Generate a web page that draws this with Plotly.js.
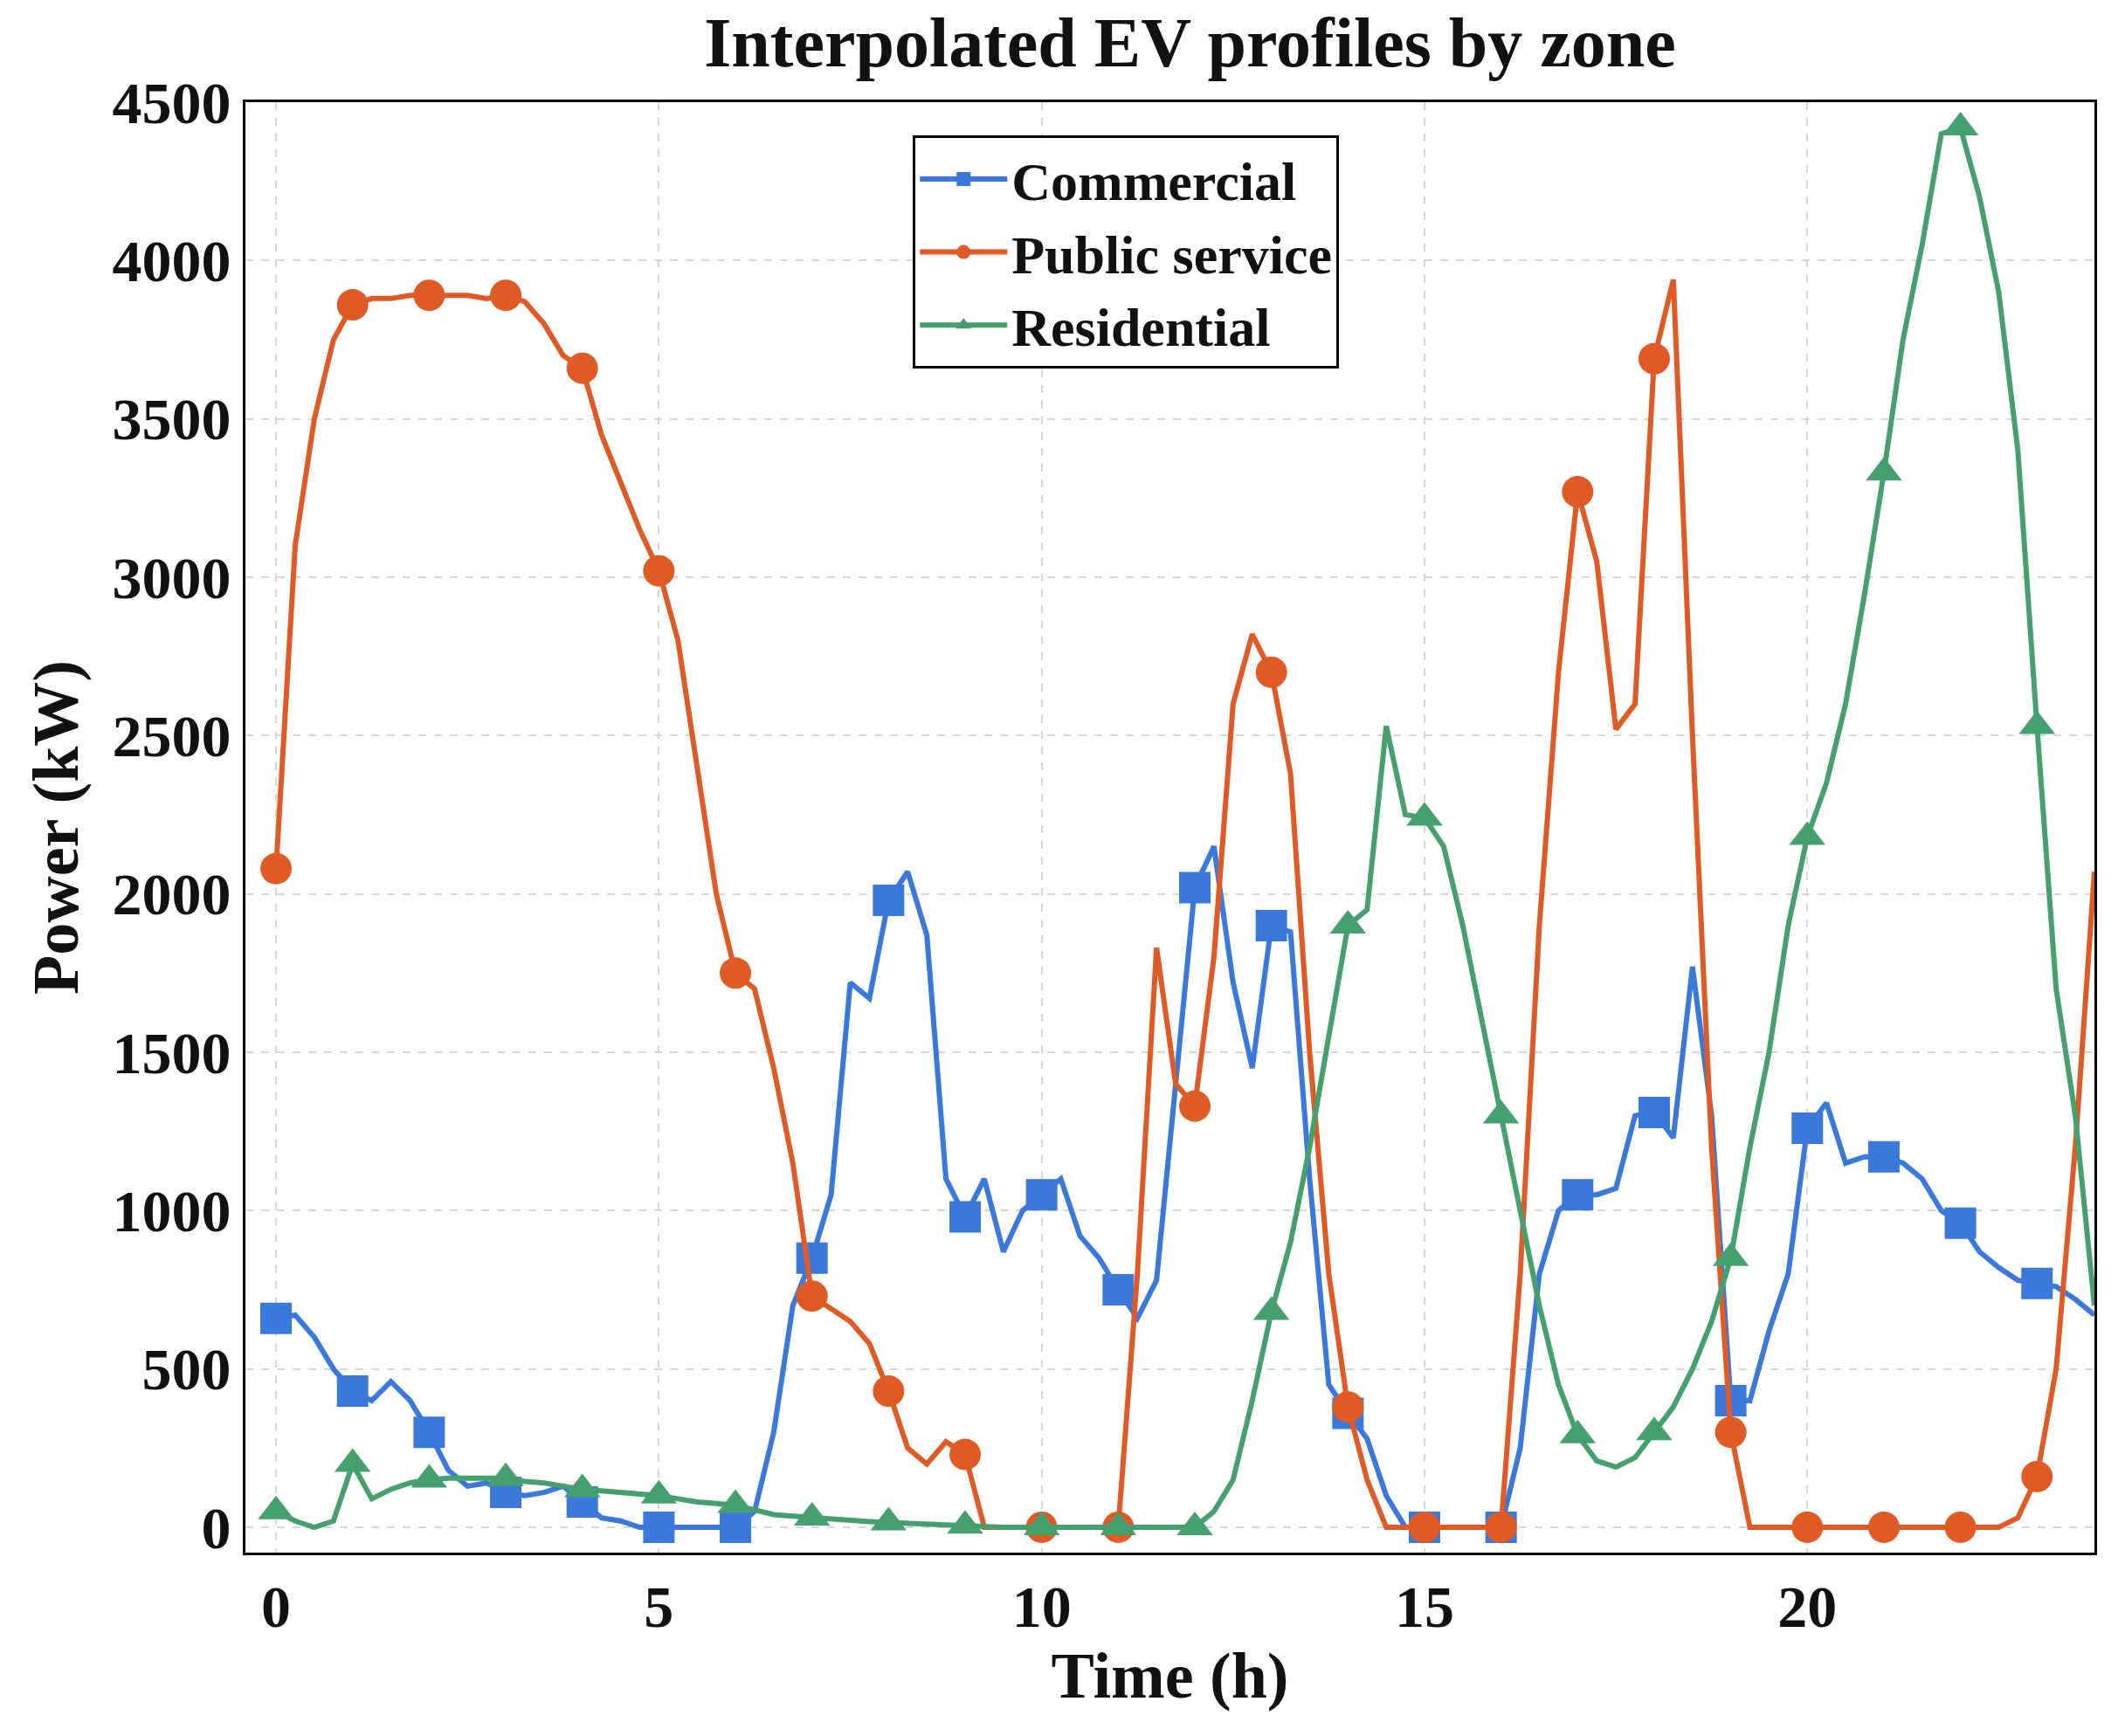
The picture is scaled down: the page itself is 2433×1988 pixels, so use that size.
<!DOCTYPE html>
<html>
<head>
<meta charset="utf-8">
<script src="https://cdn.plot.ly/plotly-3.0.1.min.js"></script>
<style>body{margin:0;background:#fff}</style>
</head>
<body>
<div id="chart" style="width:2433px;height:1988px"></div>
<script>
// quarter-hour readings, 0 .. 23.75 h
const time = []
for (let i = 0; i < 96; i++) time.push(i / 4)

const commercial = [
  660,670,600,500, 430,400,460,400, 300,180,130,140, 110,100,110,130,
  80,30,20,0, 0,0,0,0, 0,50,300,700, 850,1050,1720,1670,
  1980,2070,1870,1100, 980,1100,870,1000, 1050,1100,920,850, 750,660,780,1400,
  2020,2150,1720,1450, 1900,1880,1100,450, 360,280,100,0, 0,0,0,0,
  0,250,800,1000, 1050,1050,1070,1300, 1310,1230,1770,1300, 400,400,620,800,
  1260,1340,1150,1170, 1170,1150,1100,1000, 960,870,820,780, 770,760,720,670
]
const publicService = [
  2080,3100,3500,3750, 3860,3880,3880,3890, 3890,3890,3890,3880, 3890,3870,3800,3700,
  3660,3450,3300,3150, 3020,2800,2400,2000, 1750,1700,1450,1150, 730,690,650,580,
  430,250,200,270, 230,0,0,0, 0,0,0,0, 0,800,1830,1400,
  1330,1800,2600,2820, 2700,2380,1500,800, 380,150,0,0, 0,0,0,0,
  0,800,1900,2700, 3270,3050,2520,2600, 3690,3940,2500,1200, 300,0,0,0,
  0,0,0,0, 0,0,0,0, 0,0,0,30, 160,500,1200,2070
]
const residential = [
  50,20,0,20, 200,90,120,140, 150,155,155,155, 155,145,140,130,
  120,115,110,105, 100,90,80,75, 70,55,40,35, 30,25,20,18,
  15,12,10,7, 5,3,0,0, 0,0,0,0, 0,0,0,0,
  0,50,150,400, 680,900,1200,1550, 1900,1950,2530,2250, 2240,2150,1900,1600,
  1300,1000,700,450, 290,210,190,220, 300,380,500,650, 850,1200,1500,1900,
  2180,2350,2600,2950, 3330,3750,4050,4400, 4420,4200,3900,3400, 2530,1700,1300,700
]

const font = 'Liberation Serif, Times New Roman, serif'

const series = [
  {name: 'Commercial', y: commercial, color: '#3b78dc', symbol: 'square'},
  {name: 'Public service', y: publicService, color: '#e05a25', symbol: 'circle'},
  {name: 'Residential', y: residential, color: '#46a06e', symbol: 'triangle-up'}
]

const data = []
series.forEach(s => {
  // line through all quarter-hour readings
  data.push({
    x: time, y: s.y, mode: 'lines', legendgroup: s.name, showlegend: false,
    line: {color: s.color, width: 6}
  })
  // markers at whole hours only
  const hx = [], hy = []
  time.forEach((t, i) => { if (Number.isInteger(t)) { hx.push(t); hy.push(s.y[i]) } })
  data.push({
    x: hx, y: hy, mode: 'markers', legendgroup: s.name, showlegend: false,
    marker: {color: s.color, symbol: s.symbol, size: 36, opacity: 1, line: {width: 0}}
  })
  // legend entry
  data.push({
    x: [null], y: [null], name: '<b>' + s.name + '</b>', mode: 'lines+markers', legendgroup: s.name,
    line: {color: s.color, width: 6},
    marker: {color: s.color, symbol: s.symbol, size: 34, opacity: 1}
  })
})

const layout = {
  width: 2433,
  height: 1988,
  margin: {l: 281, r: 35, t: 117, b: 210},
  paper_bgcolor: '#fff',
  plot_bgcolor: '#fff',
  font: {family: font, color: '#111', size: 68},
  title: {text: '<b>Interpolated EV profiles by zone</b>', font: {size: 80}, x: 0.56, y: 0.99, yanchor: 'top'},
  xaxis: {
    range: [-0.4, 23.75],
    tickvals: [0, 5, 10, 15, 20],
    ticktext: ['<b>0</b>', '<b>5</b>', '<b>10</b>', '<b>15</b>', '<b>20</b>'],
    showgrid: true, gridcolor: '#d6d6d6', griddash: 'dash', gridwidth: 2,
    zeroline: false, showline: true, mirror: true, linecolor: '#000', linewidth: 3,
    ticks: '', title: {text: '<b>Time (h)</b>', font: {size: 74}, standoff: 10}
  },
  yaxis: {
    range: [-80, 4500],
    tickvals: [0, 500, 1000, 1500, 2000, 2500, 3000, 3500, 4000, 4500],
    ticktext: ['0', '500', '1000', '1500', '2000', '2500', '3000', '3500', '4000', '4500'].map(t => '<b>' + t + '</b>'),
    showgrid: true, gridcolor: '#d6d6d6', griddash: 'dash', gridwidth: 2,
    zeroline: false, showline: true, mirror: true, linecolor: '#000', linewidth: 3,
    ticks: '', title: {text: '<b>Power (kW)</b>', font: {size: 74}, standoff: 15}
  },
  legend: {
    x: 0.361, y: 0.977, xanchor: 'left', yanchor: 'top',
    bgcolor: '#fff', bordercolor: '#000', borderwidth: 3,
    font: {size: 62}, itemwidth: 100, tracegroupgap: 0
  },
  showlegend: true
}

Plotly.newPlot('chart', data, layout, {displayModeBar: false})
</script>
</body>
</html>
